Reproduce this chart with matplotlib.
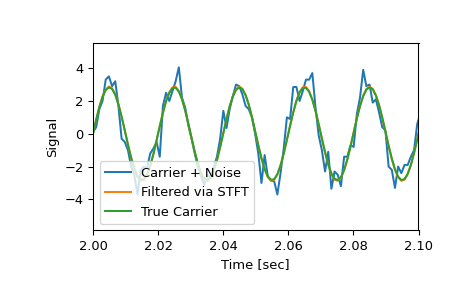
import numpy as np
import matplotlib.pyplot as plt

# Signal sampled at 1024 Hz, window 2.0 .. 2.1 sec (one sample either side)
fs = 1024
first_sample = 2047

noisy = [
    -0.9, 0.1, 0.4, 1.5, 2.0, 3.3, 3.5, 2.9, 3.2, 1.7, -0.3, -0.5, -1.0,
    -2.0, -2.5, -3.7, -2.2, -2.0, -2.1, -1.2, -0.9, -0.5, -1.4, 1.7, 2.5,
    2.0, 2.6, 3.2, 4.05, 2.2, 1.6, 0.5, -0.3, -1.2, -2.0, -2.6, -3.1, -2.5,
    -2.7, -2.0, -1.4, -0.3, 1.4, 0.35, 1.5, 2.3, 3.0, 2.9, 2.4, 1.7, 1.5,
    1.0, 0.0, -1.2, -3.0, -1.3, -2.6, -2.85, -2.9, -3.7, -2.4, -0.9, 1.0,
    0.9, 2.85, 2.85, 2.0, 2.6, 3.3, 3.3, 3.7, 1.6, -0.1, -1.0, -2.3, -1.1,
    -3.35, -2.3, -2.5, -3.2, -1.4, -1.4, -0.7, -0.8, 1.2, 2.2, 3.9, 2.9,
    3.0, 1.9, 2.1, 1.3, 0.4, 0.2, -2.0, -2.2, -3.3, -2.0, -2.4, -1.9, -1.9,
    -1.4, -1.0, 0.6, 1.2,
]

filtered = [
    -0.87, 0.02, 0.86, 1.65, 2.28, 2.70, 2.88, 2.78, 2.40, 1.80, 1.04, 0.19,
    -0.68, -1.48, -2.15, -2.63, -2.86, -2.82, -2.52, -1.97, -1.25, -0.40,
    0.47, 1.30, 2.01, 2.53, 2.83, 2.86, 2.61, 2.12, 1.42, 0.60, -0.27, -1.11,
    -1.86, -2.44, -2.79, -2.88, -2.70, -2.26, -1.61, -0.81, 0.05, 0.91, 1.69,
    2.30, 2.71, 2.87, 2.75, 2.37, 1.78, 1.01, 0.15, -0.72, -1.52, -2.18,
    -2.65, -2.86, -2.81, -2.49, -1.94, -1.21, -0.36, 0.50, 1.33, 2.03, 2.55,
    2.84, 2.85, 2.60, 2.09, 1.39, 0.57, -0.31, -1.14, -1.89, -2.46, -2.80,
    -2.87, -2.68, -2.23, -1.58, -0.78, 0.09, 0.94, 1.71, 2.32, 2.73, 2.87,
    2.74, 2.35, 1.75, 0.98, 0.12, -0.75, -1.54, -2.20, -2.66, -2.87, -2.80,
    -2.47, -1.91, -1.17, -0.33, 0.54,
]

carrier = [
    -0.85, 0.0, 0.85, 1.63, 2.25, 2.66, 2.83, 2.73, 2.37, 1.79, 1.05, 0.21,
    -0.65, -1.45, -2.12, -2.59, -2.81, -2.77, -2.48, -1.95, -1.24, -0.41,
    0.45, 1.27, 1.98, 2.49, 2.78, 2.81, 2.57, 2.10, 1.42, 0.62, -0.24, -1.08,
    -1.82, -2.39, -2.73, -2.82, -2.65, -2.23, -1.60, -0.82, 0.03, 0.89, 1.66,
    2.27, 2.67, 2.83, 2.72, 2.35, 1.77, 1.02, 0.17, -0.69, -1.48, -2.14,
    -2.60, -2.81, -2.77, -2.46, -1.93, -1.21, -0.38, 0.48, 1.30, 2.00, 2.51,
    2.79, 2.80, 2.56, 2.07, 1.39, 0.59, -0.28, -1.11, -1.85, -2.41, -2.74,
    -2.82, -2.64, -2.21, -1.57, -0.79, 0.07, 0.92, 1.68, 2.29, 2.69, 2.83,
    2.71, 2.33, 1.74, 0.99, 0.14, -0.72, -1.51, -2.16, -2.61, -2.82, -2.76,
    -2.44, -1.90, -1.18, -0.35, 0.52,
]

legend_labels = ["Carrier + Noise", "Filtered via STFT", "True Carrier"]

# sample instants of the listed values
time = (first_sample + np.arange(len(carrier))) / fs

font_size = 13 * 72 / 96.0
plt.rcParams.update({
    "font.size": font_size,
    "axes.labelsize": font_size,
    "xtick.labelsize": font_size,
    "ytick.labelsize": font_size,
    "legend.fontsize": font_size,
})

fig = plt.figure(figsize=(465 / 96, 3), dpi=96)
fig.subplots_adjust(left=0.2, right=0.9, bottom=0.2, top=0.85)
ax = fig.add_subplot(111)

ax.plot(time, noisy, time, filtered, time, carrier)
ax.set_xlim([2, 2.1])
ax.set_ylim([-5.89, 5.52])
ax.set_xlabel("Time [sec]")
ax.set_ylabel("Signal")
ax.legend(legend_labels, loc="lower left")

fig.savefig("out.png", dpi=96)
